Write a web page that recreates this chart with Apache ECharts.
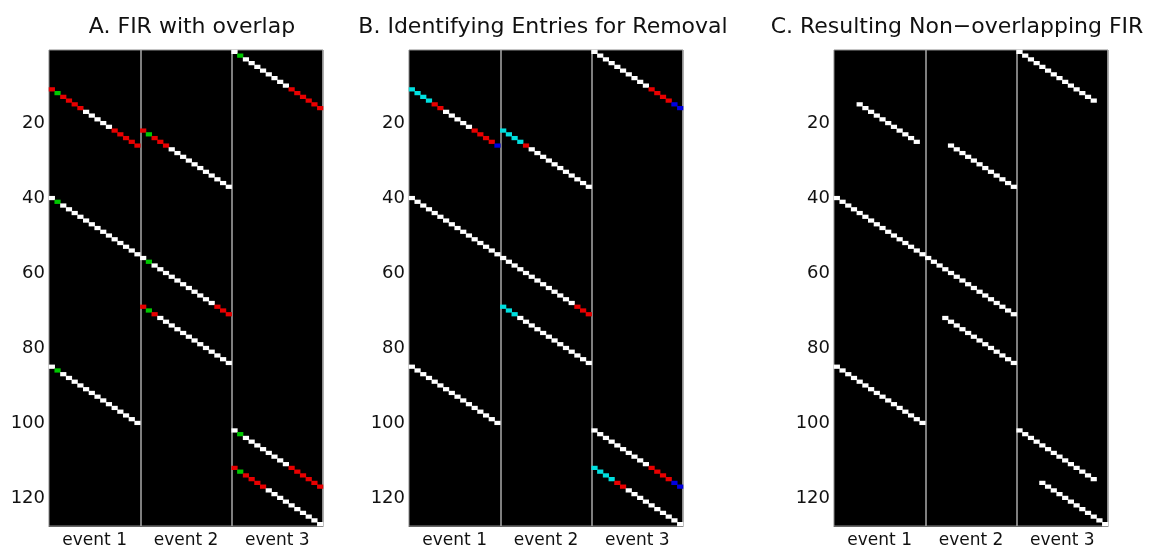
<!DOCTYPE html>
<html>
<head>
<meta charset="utf-8">
<script src="https://cdn.jsdelivr.net/npm/echarts@6/dist/echarts.min.js"></script>
<style>
  html, body { margin: 0; padding: 0; background: #fff; }
  #main { width: 1149px; height: 551px; }
</style>
</head>
<body>
<div id="main"></div>
<script>
// FIR design matrices: 127 scans x (3 events * 16 lags)
const nScans = 127;
const nLags = 16;
const eventNames = ['event 1', 'event 2', 'event 3'];
const panelTitles = ['A. FIR with overlap', 'B. Identifying Entries for Removal', 'C. Resulting Non\u2212overlapping FIR'];
const yTicks = [20, 40, 60, 80, 100, 120];

// onset scan of each occurrence, per event
const onsets = [
  [11, 40, 85],
  [22, 56, 69],
  [1, 102, 112]
];

// colour of each lag, per occurrence: w white, r red, g green, c cyan, b blue, . empty
const panelA = [
  ['rgrrrrwwwwwrrrrr', 'wgwwwwwwwwwwwwww', 'wgwwwwwwwwwwwwww'],
  ['rgrrrwwwwwwwwwww', 'wgwwwwwwwwwwwrrr', 'rgrwwwwwwwwwwwww'],
  ['wgwwwwwwwwrrrrrr', 'wgwwwwwwwwrrrrrr', 'rgrrrrwwwwwwwwww']
];
const panelB = [
  ['ccccrrwwwwwrrrrb', 'wwwwwwwwwwwwwwww', 'wwwwwwwwwwwwwwww'],
  ['ccccrwwwwwwwwwww', 'wwwwwwwwwwwwwrrr', 'cccwwwwwwwwwwwww'],
  ['wwwwwwwwwwrrrrbb', 'wwwwwwwwwwrrrrbb', 'ccccrrwwwwwwwwww']
];
const panelC = [
  ['....wwwwwwwwwww.', 'wwwwwwwwwwwwwwww', 'wwwwwwwwwwwwwwww'],
  ['....wwwwwwwwwwww', 'wwwwwwwwwwwwwwww', '...wwwwwwwwwwwww'],
  ['wwwwwwwwwwwwww..', 'wwwwwwwwwwwwww..', '....wwwwwwwwwwww']
];

const codes = ['w', 'r', 'g', 'c', 'b'];
const codeColors = ['#ffffff', '#e80000', '#00c800', '#00e0e0', '#0000e0'];

const scanLabels = Array.from({ length: nScans }, (_, i) => String(i + 1));
const columnLabels = Array.from({ length: eventNames.length * nLags }, (_, i) => String(i));

function cellsFor(panel) {
  const cells = [];
  panel.forEach((lines, ev) => {
    lines.forEach((line, k) => {
      for (let j = 0; j < nLags; j++) {
        const c = codes.indexOf(line[j]);
        if (c < 0) continue;
        const row = onsets[ev][k] + j;
        if (row > nScans) continue;
        cells.push([ev * nLags + j, row - 1, c]);
      }
    });
  });
  return cells;
}

const panels = [panelA, panelB, panelC];
const grids = [
  { left: 49, top: 50, width: 274, height: 476 },
  { left: 409, top: 50, width: 274, height: 476 },
  { left: 834, top: 50, width: 274, height: 476 }
];
const titleCenters = [187, 538, 952];
const font = 'DejaVu Sans';

const chart = echarts.init(document.getElementById('main'));
const xAxes = [];
const yAxes = [];
const series = [];
panels.forEach((p, i) => {
  xAxes.push({
    type: 'category', gridIndex: i, data: columnLabels, position: 'bottom',
    axisLine: { show: true, lineStyle: { color: '#666', width: 1 } },
    axisTick: { show: false }, axisLabel: { show: false },
    splitLine: {
      show: true,
      interval: (idx) => idx > 0 && idx % nLags === 0,
      lineStyle: { color: '#a8a8a8', width: 1.5 }
    }
  });
  xAxes.push({
    type: 'category', gridIndex: i, data: eventNames, position: 'bottom',
    axisLine: { show: false }, axisTick: { show: false }, splitLine: { show: false },
    axisLabel: { color: '#111', fontSize: 17, fontFamily: font, margin: 6 }
  });
  yAxes.push({
    type: 'category', gridIndex: i, data: scanLabels, inverse: true,
    axisLine: { show: false }, axisTick: { show: false }, splitLine: { show: false },
    axisLabel: {
      color: '#111', fontSize: 18, fontFamily: font, margin: 4,
      interval: (idx, val) => yTicks.indexOf(Number(val)) >= 0
    }
  });
  series.push({
    type: 'heatmap', xAxisIndex: i * 2, yAxisIndex: i,
    data: cellsFor(p), emphasis: { disabled: true }
  });
});

chart.setOption({
  animation: false,
  backgroundColor: '#fff',
  title: panelTitles.map((t, i) => ({
    text: t,
    left: titleCenters[i],
    top: 11,
    textAlign: 'center',
    textStyle: { color: '#111', fontSize: 22, fontWeight: 'normal', fontFamily: font }
  })),
  grid: grids.map(g => Object.assign({
    show: true, backgroundColor: '#000', borderColor: '#8a8a8a', borderWidth: 1
  }, g)),
  visualMap: {
    type: 'piecewise', show: false, dimension: 2,
    pieces: codeColors.map((c, i) => ({ value: i, color: c }))
  },
  xAxis: xAxes,
  yAxis: yAxes,
  series: series
});
</script>
</body>
</html>
